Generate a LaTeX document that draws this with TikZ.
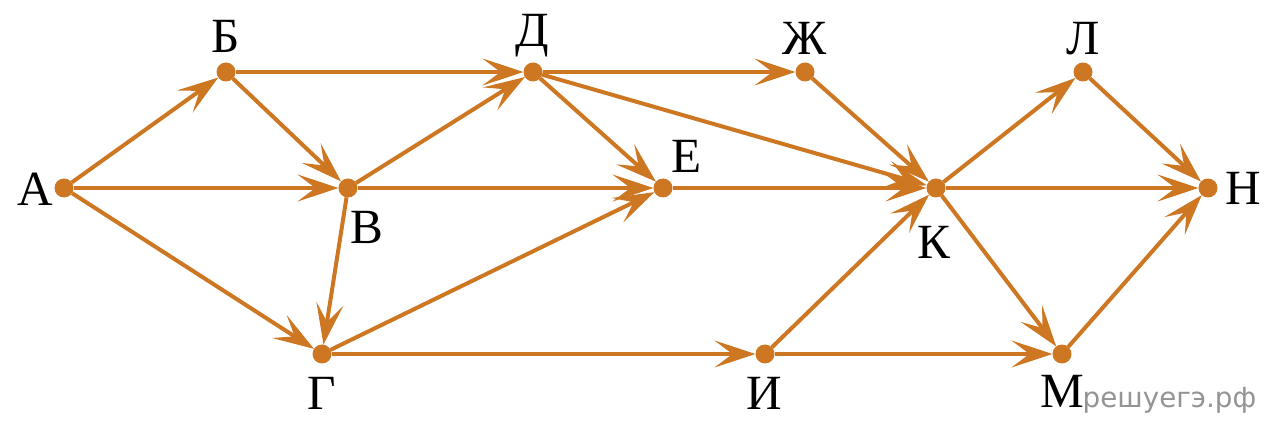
\documentclass[tikz,border=0pt]{standalone}
\usepackage{fontspec}
\setmainfont{Liberation Serif}
\newfontfamily\wmfont{DejaVu Sans}
\usepackage{xcolor}
\usepackage{tikz}
\usetikzlibrary{arrows.meta}
\definecolor{edgeorange}{RGB}{206,119,34}
\begin{document}
\begin{tikzpicture}[
				x=0.1mm, y=-0.1mm,
				dotnode/.style={circle, fill=edgeorange, inner sep=0pt, outer sep=0pt, minimum size=1.9mm},
				lblnode/.style={anchor=base, inner sep=0pt, font=\fontsize{14}{16}\selectfont},
				edge/.style={draw=edgeorange, line width=0.4mm, -{Stealth[length=4.1mm, width=2.7mm, inset=1.8mm]}},
				]
				\useasboundingbox (0,0) rectangle (1280,427);
				%Nodes
				\node[dotnode](A) at (64,188){};
				\node[dotnode](B) at (226,72){};
				\node[dotnode](V) at (348,188){};
				\node[dotnode](G) at (322,354){};
				\node[dotnode](D) at (533,72){};
				\node[dotnode](E) at (663,188){};
				\node[dotnode](Zh) at (805,72){};
				\node[dotnode](I) at (765,354){};
				\node[dotnode](K) at (936,188){};
				\node[dotnode](L) at (1083,72){};
				\node[dotnode](M) at (1062,354){};
				\node[dotnode](N) at (1208,188){};
				
				%Labels
				\node[lblnode](lA) at (35,206){А};
				\node[lblnode](lB) at (226,53){Б};
				\node[lblnode](lV) at (367,243){В};
				\node[lblnode](lG) at (322,409){Г};
				\node[lblnode](lD) at (532,47){Д};
				\node[lblnode](lE) at (687,173){Е};
				\node[lblnode](lZh) at (805,55){Ж};
				\node[lblnode](lI) at (764,409){И};
				\node[lblnode](lK) at (934,258){К};
				\node[lblnode](lL) at (1083,55){Л};
				\node[lblnode](lM) at (1062,407){М};
				\node[lblnode](lN) at (1243,205){Н};
				\node[anchor=base west, inner sep=0pt, text=black!42, font=\wmfont\fontsize{7.9}{9}\selectfont](wm) at (1082,407){решуегэ.рф};
				
				%Lines
				\draw[edge] (A) -- (B);
				\draw[edge] (A) -- (V);
				\draw[edge] (A) -- (G);
				\draw[edge] (B) -- (D);
				\draw[edge] (B) -- (V);
				\draw[edge] (V) -- (D);
				\draw[edge] (V) -- (E);
				\draw[edge] (V) -- (G);
				\draw[edge] (G) -- (E);
				\draw[edge] (G) -- (I);
				\draw[edge] (D) -- (Zh);
				\draw[edge] (D) -- (E);
				\draw[edge] (D) -- (K);
				\draw[edge] (Zh) -- (K);
				\draw[edge] (E) -- (K);
				\draw[edge] (I) -- (K);
				\draw[edge] (I) -- (M);
				\draw[edge] (K) -- (L);
				\draw[edge] (K) -- (N);
				\draw[edge] (K) -- (M);
				\draw[edge] (L) -- (N);
				\draw[edge] (M) -- (N);
				
			\end{tikzpicture}
\end{document}
